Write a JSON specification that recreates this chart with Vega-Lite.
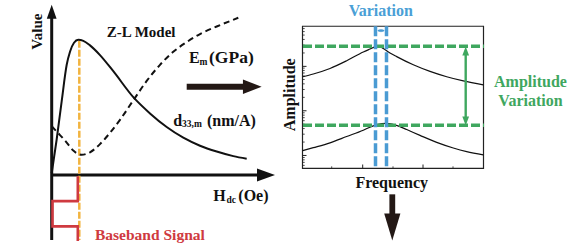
{
  "$schema": "https://vega.github.io/schema/vega-lite/v6.json",
  "width": 579,
  "height": 247,
  "padding": 0,
  "autosize": {"type": "fit", "contains": "padding"},
  "background": "white",
  "config": {
    "view": {"stroke": null},
    "text": {"font": "Liberation Serif", "fontWeight": "bold", "baseline": "alphabetic"}
  },
  "encoding": {
    "x": {"field": "x", "type": "quantitative", "scale": {"domain": [0, 579], "nice": false, "zero": false}, "axis": null},
    "y": {"field": "y", "type": "quantitative", "scale": {"domain": [0, 247], "nice": false, "zero": false, "reverse": true}, "axis": null}
  },
  "layer": [
    {
      "data": {"values": [
        {"x": 51.7, "y": 16, "x2": 51.7, "y2": 247},
        {"x": 51.7, "y": 180, "x2": 259, "y2": 180}
      ]},
      "mark": {"type": "rule", "color": "#111", "strokeWidth": 3},
      "encoding": {"x2": {"field": "x2"}, "y2": {"field": "y2"}}
    },
    {
      "data": {"values": [{"x": 51.7, "y": 12}]},
      "mark": {"type": "point", "shape": "M0,-1L0.7,1L-0.7,1Z", "size": 196, "filled": true, "color": "#111", "opacity": 1, "strokeWidth": 0}
    },
    {
      "data": {"values": [{"x": 266, "y": 180}]},
      "mark": {"type": "point", "shape": "M1,0L-1,-0.72L-1,0.72Z", "size": 324, "filled": true, "color": "#111", "opacity": 1, "strokeWidth": 0}
    },
    {
      "data": {"values": [{"x": 79.3, "y": 42, "x2": 79.3, "y2": 247}]},
      "mark": {"type": "rule", "color": "#f2b440", "strokeWidth": 2.5, "strokeDash": [7, 2]},
      "encoding": {"x2": {"field": "x2"}, "y2": {"field": "y2"}}
    },
    {
      "data": {"values": [
        {"i": 0, "x": 77.8, "y": 181.5},
        {"i": 1, "x": 77.8, "y": 207},
        {"i": 2, "x": 52.5, "y": 207},
        {"i": 3, "x": 52.5, "y": 233},
        {"i": 4, "x": 77.8, "y": 233},
        {"i": 5, "x": 77.8, "y": 248}
      ]},
      "mark": {"type": "line", "color": "#cf3a40", "strokeWidth": 2.6, "strokeJoin": "miter"},
      "encoding": {"order": {"field": "i", "type": "quantitative"}}
    },
    {
      "data": {"values": [
        {"x": 51.7, "y": 178.3}, {"x": 56.7, "y": 143.3}, {"x": 61.7, "y": 104}, {"x": 66.7, "y": 66.7},
        {"x": 70, "y": 53.3}, {"x": 74, "y": 44}, {"x": 78.3, "y": 41}, {"x": 83.3, "y": 42},
        {"x": 90, "y": 46.7}, {"x": 100, "y": 56.7}, {"x": 113.3, "y": 73.3}, {"x": 133.3, "y": 100},
        {"x": 150, "y": 116.7}, {"x": 166.7, "y": 130.7}, {"x": 183.3, "y": 141.7}, {"x": 200, "y": 150},
        {"x": 216.7, "y": 156}, {"x": 233.3, "y": 160.7}, {"x": 246.7, "y": 163.3}
      ]},
      "mark": {"type": "line", "color": "#111", "strokeWidth": 2, "interpolate": "monotone"}
    },
    {
      "data": {"values": [
        {"x": 51.7, "y": 130}, {"x": 60, "y": 139}, {"x": 66.7, "y": 146.7}, {"x": 73.3, "y": 155},
        {"x": 81.7, "y": 159.3}, {"x": 90, "y": 156.7}, {"x": 100, "y": 148.3}, {"x": 110, "y": 136.7},
        {"x": 120, "y": 123.3}, {"x": 133.3, "y": 103.3}, {"x": 146.7, "y": 83.3}, {"x": 160, "y": 66.7},
        {"x": 173.3, "y": 53.3}, {"x": 186.7, "y": 43.3}, {"x": 200, "y": 35}, {"x": 216.7, "y": 27.3},
        {"x": 238.3, "y": 18.3}
      ]},
      "mark": {"type": "line", "color": "#111", "strokeWidth": 2, "interpolate": "monotone", "strokeDash": [6, 4]}
    },
    {
      "data": {"values": [
        {"x": 186.7, "y": 89.3, "x2": 245, "y2": 89.3},
        {"x": 392.3, "y": 200, "x2": 392.3, "y2": 223}
      ]},
      "mark": {"type": "rule", "color": "#231815", "strokeWidth": 5.8},
      "encoding": {"x2": {"field": "x2"}, "y2": {"field": "y2"}}
    },
    {
      "data": {"values": [{"x": 252.3, "y": 89.3}]},
      "mark": {"type": "point", "shape": "M1,0L-1,-0.786L-1,0.786Z", "size": 350, "filled": true, "color": "#231815", "opacity": 1, "strokeWidth": 0}
    },
    {
      "data": {"values": [{"x": 392.3, "y": 233.5}]},
      "mark": {"type": "point", "shape": "M0,1L-0.6,-1L0.6,-1Z", "size": 729, "filled": true, "color": "#231815", "opacity": 1, "strokeWidth": 0}
    },
    {
      "data": {"values": [{"x": 302.5, "x2": 483.5, "y": 27, "y2": 173.3}]},
      "mark": {"type": "rect", "fillOpacity": 0, "stroke": "#222", "strokeWidth": 1.2},
      "encoding": {"x2": {"field": "x2"}, "y2": {"field": "y2"}}
    },
    {
      "data": {"values": [
        {"x": 302.5, "x2": 306.5, "y": 68.3, "y2": 68.3},
        {"x": 302.5, "x2": 306.5, "y": 114, "y2": 114},
        {"x": 302.5, "x2": 306.5, "y": 160, "y2": 160},
        {"x": 362.7, "x2": 362.7, "y": 173.3, "y2": 169.3},
        {"x": 423, "x2": 423, "y": 173.3, "y2": 169.3}
      ]},
      "mark": {"type": "rule", "color": "#222", "strokeWidth": 1},
      "encoding": {"x2": {"field": "x2"}, "y2": {"field": "y2"}}
    },
    {
      "data": {"values": [
        {"x": 302.5, "x2": 304.7, "y": 29.4, "y2": 29.4},
        {"x": 302.5, "x2": 304.7, "y": 32.5, "y2": 32.5},
        {"x": 302.5, "x2": 304.7, "y": 36.1, "y2": 36.1},
        {"x": 302.5, "x2": 304.7, "y": 40.6, "y2": 40.6},
        {"x": 302.5, "x2": 304.7, "y": 46.4, "y2": 46.4},
        {"x": 302.5, "x2": 304.7, "y": 54.5, "y2": 54.5},
        {"x": 302.5, "x2": 304.7, "y": 70.1, "y2": 70.1},
        {"x": 302.5, "x2": 304.7, "y": 72.5, "y2": 72.5},
        {"x": 302.5, "x2": 304.7, "y": 75.1, "y2": 75.1},
        {"x": 302.5, "x2": 304.7, "y": 78.2, "y2": 78.2},
        {"x": 302.5, "x2": 304.7, "y": 81.8, "y2": 81.8},
        {"x": 302.5, "x2": 304.7, "y": 86.3, "y2": 86.3},
        {"x": 302.5, "x2": 304.7, "y": 92.1, "y2": 92.1},
        {"x": 302.5, "x2": 304.7, "y": 100.2, "y2": 100.2},
        {"x": 302.5, "x2": 304.7, "y": 116.1, "y2": 116.1},
        {"x": 302.5, "x2": 304.7, "y": 118.5, "y2": 118.5},
        {"x": 302.5, "x2": 304.7, "y": 121.1, "y2": 121.1},
        {"x": 302.5, "x2": 304.7, "y": 124.2, "y2": 124.2},
        {"x": 302.5, "x2": 304.7, "y": 127.8, "y2": 127.8},
        {"x": 302.5, "x2": 304.7, "y": 132.3, "y2": 132.3},
        {"x": 302.5, "x2": 304.7, "y": 138.1, "y2": 138.1},
        {"x": 302.5, "x2": 304.7, "y": 146.2, "y2": 146.2},
        {"x": 302.5, "x2": 304.7, "y": 162.1, "y2": 162.1},
        {"x": 302.5, "x2": 304.7, "y": 164.5, "y2": 164.5},
        {"x": 302.5, "x2": 304.7, "y": 167.1, "y2": 167.1},
        {"x": 302.5, "x2": 304.7, "y": 170.2, "y2": 170.2},
        {"x": 331.7, "x2": 331.7, "y": 173.3, "y2": 171.2},
        {"x": 393, "x2": 393, "y": 173.3, "y2": 171.2},
        {"x": 453, "x2": 453, "y": 173.3, "y2": 171.2}
      ]},
      "mark": {"type": "rule", "color": "#222", "strokeWidth": 0.8},
      "encoding": {"x2": {"field": "x2"}, "y2": {"field": "y2"}}
    },
    {
      "data": {"values": [
        {"s": "high", "x": 302.7, "y": 79}, {"s": "high", "x": 313.3, "y": 76.2}, {"s": "high", "x": 330, "y": 70.5},
        {"s": "high", "x": 346.7, "y": 62.5}, {"s": "high", "x": 363.3, "y": 53.5}, {"s": "high", "x": 370, "y": 50.5},
        {"s": "high", "x": 375, "y": 48.3}, {"s": "high", "x": 379, "y": 47.8}, {"s": "high", "x": 383.3, "y": 50},
        {"s": "high", "x": 390, "y": 54.5}, {"s": "high", "x": 396.7, "y": 58.3}, {"s": "high", "x": 413.3, "y": 66.7},
        {"s": "high", "x": 430, "y": 73.5}, {"s": "high", "x": 446.7, "y": 79}, {"s": "high", "x": 463.3, "y": 83.3},
        {"s": "high", "x": 483.3, "y": 87.3},
        {"s": "low", "x": 302.7, "y": 155}, {"s": "low", "x": 313.3, "y": 152}, {"s": "low", "x": 330, "y": 147},
        {"s": "low", "x": 346.7, "y": 140.5}, {"s": "low", "x": 363.3, "y": 134}, {"s": "low", "x": 372, "y": 130},
        {"s": "low", "x": 378, "y": 128}, {"s": "low", "x": 386, "y": 127}, {"s": "low", "x": 392, "y": 127.7},
        {"s": "low", "x": 398, "y": 129.5}, {"s": "low", "x": 406.7, "y": 133.3}, {"s": "low", "x": 420, "y": 139.3},
        {"s": "low", "x": 436.7, "y": 146.5}, {"s": "low", "x": 453.3, "y": 152.3}, {"s": "low", "x": 466.7, "y": 156},
        {"s": "low", "x": 483.3, "y": 159.3}
      ]},
      "mark": {"type": "line", "color": "#111", "strokeWidth": 1.2, "interpolate": "monotone"},
      "encoding": {"detail": {"field": "s", "type": "nominal"}}
    },
    {
      "data": {"values": [
        {"x": 303, "x2": 484, "y": 47.7, "y2": 47.7},
        {"x": 303, "x2": 484, "y": 129, "y2": 129}
      ]},
      "mark": {"type": "rule", "color": "#3fa75f", "strokeWidth": 3.5, "strokeDash": [9, 3]},
      "encoding": {"x2": {"field": "x2"}, "y2": {"field": "y2"}}
    },
    {
      "data": {"values": [
        {"x": 375.5, "x2": 375.5, "y": 27, "y2": 173.3},
        {"x": 386.5, "x2": 386.5, "y": 27, "y2": 173.3}
      ]},
      "mark": {"type": "rule", "color": "#4a9bd3", "strokeWidth": 3.5, "strokeDash": [10, 3]},
      "encoding": {"x2": {"field": "x2"}, "y2": {"field": "y2"}}
    },
    {
      "data": {"values": [{"x": 378, "x2": 384, "y": 31.5, "y2": 31.5}]},
      "mark": {"type": "rule", "color": "#4a9bd3", "strokeWidth": 1.5},
      "encoding": {"x2": {"field": "x2"}, "y2": {"field": "y2"}}
    },
    {
      "data": {"values": [{"x": 379, "y": 31.5}]},
      "mark": {"type": "point", "shape": "M-1,0L1,-0.9L1,0.9Z", "size": 12, "filled": true, "color": "#4a9bd3", "opacity": 1, "strokeWidth": 0}
    },
    {
      "data": {"values": [{"x": 383, "y": 31.5}]},
      "mark": {"type": "point", "shape": "M1,0L-1,-0.9L-1,0.9Z", "size": 12, "filled": true, "color": "#4a9bd3", "opacity": 1, "strokeWidth": 0}
    },
    {
      "data": {"values": [{"x": 465.7, "x2": 465.7, "y": 52, "y2": 125}]},
      "mark": {"type": "rule", "color": "#3fa75f", "strokeWidth": 2.4},
      "encoding": {"x2": {"field": "x2"}, "y2": {"field": "y2"}}
    },
    {
      "data": {"values": [{"x": 465.7, "y": 52.5}]},
      "mark": {"type": "point", "shape": "M0,-1L0.75,1L-0.75,1Z", "size": 81, "filled": true, "color": "#3fa75f", "opacity": 1, "strokeWidth": 0}
    },
    {
      "data": {"values": [{"x": 465.7, "y": 124.5}]},
      "mark": {"type": "point", "shape": "M0,1L0.75,-1L-0.75,-1Z", "size": 81, "filled": true, "color": "#3fa75f", "opacity": 1, "strokeWidth": 0}
    },
    {
      "data": {"values": [{"x": 106.7, "y": 37.7, "label": "Z-L Model"}]},
      "mark": {"type": "text", "fontSize": 15, "align": "left", "color": "#111"},
      "encoding": {"text": {"field": "label"}}
    },
    {
      "data": {"values": [
        {"x": 189, "y": 65, "label": "E"},
        {"x": 173.3, "y": 129.3, "label": "d"},
        {"x": 207, "y": 129.3, "label": "(nm/A)"},
        {"x": 213.3, "y": 207, "label": "H"},
        {"x": 238.3, "y": 207, "label": "(Oe)"}
      ]},
      "mark": {"type": "text", "fontSize": 16, "align": "left", "color": "#111"},
      "encoding": {"text": {"field": "label"}}
    },
    {
      "data": {"values": [{"x": 209, "y": 65, "label": "(GPa)"}]},
      "mark": {"type": "text", "fontSize": 17.5, "align": "left", "color": "#111"},
      "encoding": {"text": {"field": "label"}}
    },
    {
      "data": {"values": [
        {"x": 199.5, "y": 66.5, "label": "m"},
        {"x": 182, "y": 131, "label": "33,m"},
        {"x": 226.5, "y": 208.5, "label": "dc"}
      ]},
      "mark": {"type": "text", "fontSize": 9.5, "align": "left", "color": "#111"},
      "encoding": {"text": {"field": "label"}}
    },
    {
      "data": {"values": [{"x": 41.7, "y": 32.5, "label": "Value"}]},
      "mark": {"type": "text", "fontSize": 15, "align": "center", "angle": 270, "color": "#111"},
      "encoding": {"text": {"field": "label"}}
    },
    {
      "data": {"values": [{"x": 295, "y": 97.5, "label": "Amplitude"}]},
      "mark": {"type": "text", "fontSize": 16, "align": "center", "angle": 270, "color": "#111"},
      "encoding": {"text": {"field": "label"}}
    },
    {
      "data": {"values": [{"x": 391.7, "y": 193.3, "label": "Frequency"}]},
      "mark": {"type": "text", "fontSize": 16, "align": "center", "color": "#111"},
      "encoding": {"text": {"field": "label"}}
    },
    {
      "data": {"values": [{"x": 380.8, "y": 16, "label": "Variation"}]},
      "mark": {"type": "text", "fontSize": 16, "align": "center", "color": "#4a9fd6"},
      "encoding": {"text": {"field": "label"}}
    },
    {
      "data": {"values": [
        {"x": 530.5, "y": 90, "label": "Amplitude"},
        {"x": 530.5, "y": 109, "label": "Variation"}
      ]},
      "mark": {"type": "text", "fontSize": 16, "align": "center", "color": "#3fa75f"},
      "encoding": {"text": {"field": "label"}}
    },
    {
      "data": {"values": [{"x": 95, "y": 247.5, "label": "Baseband Signal"}]},
      "mark": {"type": "text", "fontSize": 15.5, "align": "left", "color": "#cf3a40"},
      "encoding": {"text": {"field": "label"}}
    }
  ]
}
